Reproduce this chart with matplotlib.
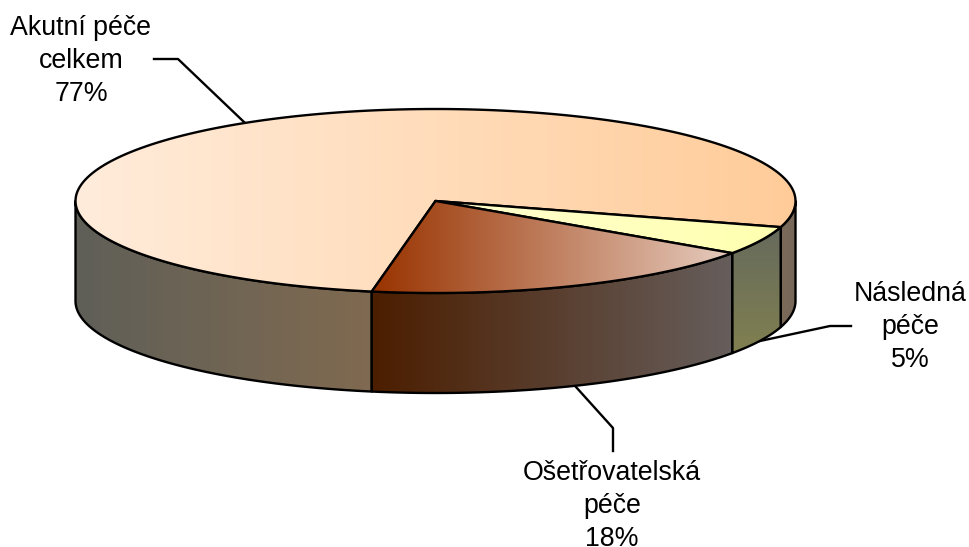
import numpy as np
import matplotlib
matplotlib.use('Agg')
import matplotlib.pyplot as plt
from matplotlib.patches import Polygon

plt.rcParams['font.family'] = ['Liberation Sans', 'DejaVu Sans']

# data
labels = ['Akutní péče\ncelkem', 'Následná\npéče', 'Ošetřovatelská\npéče']
shares = [76.75, 5, 18.25]

# pie geometry in pixels
cx, cy = 435.5, 201
rx, ry = 360, 92
depth = 100
start = -16.5
lw = 1.7

# angle ranges going counter clockwise for cream, clockwise for the others
a_cream = (start, start + shares[0] * 3.6)
a_yellow = (start - shares[1] * 3.6, start)
a_brown = (start - (shares[1] + shares[2]) * 3.6, start - shares[1] * 3.6)


def rim(a0, a1, dy=0):
    t = np.radians(np.linspace(a0, a1, 200))
    return np.column_stack([cx + rx * np.cos(t), cy - ry * np.sin(t) + dy])


def gradient(ax, pts, c0, c1, vertical=False):
    # fill polygon with a linear gradient, clipped, then outline it
    c0 = np.array(matplotlib.colors.to_rgb(c0))
    c1 = np.array(matplotlib.colors.to_rgb(c1))
    f = np.linspace(0, 1, 256)[:, None]
    ramp = c0 + (c1 - c0) * f
    img = ramp[:, None, :] if vertical else ramp[None, :, :]
    x0, x1 = pts[:, 0].min(), pts[:, 0].max()
    y0, y1 = pts[:, 1].min(), pts[:, 1].max()
    im = ax.imshow(img, extent=(x0, x1, y1, y0), aspect='auto', zorder=3, interpolation='bilinear')
    patch = Polygon(pts, closed=True, fc='none', ec='black', lw=lw, joinstyle='round', zorder=3)
    ax.add_patch(patch)
    im.set_clip_path(patch)


def side(a0, a1):
    return np.vstack([rim(a0, a1), rim(a1, a0, depth)])


def top(a0, a1):
    return np.vstack([[[cx, cy]], rim(a0, a1)])


fig = plt.figure(figsize=(9.69, 5.47), dpi=100)
ax = fig.add_axes([0, 0, 1, 1])

# leader lines
ax.plot([244, 178, 154], [122, 59, 59], color='black', lw=lw, zorder=1)
ax.plot([760, 830, 851], [341, 326, 326], color='black', lw=lw, zorder=1)
ax.plot([576, 613, 613], [387, 428, 451], color='black', lw=lw, zorder=1)

# sides
gradient(ax, side(180, a_cream[1]), '#5f5f58', '#806a50')
gradient(ax, side(a_cream[0], 0), '#7c6a58', '#76685a')
gradient(ax, side(*a_yellow), '#666a5c', '#808050', vertical=True)
gradient(ax, side(*a_brown), '#4c1e00', '#665e5c')

# top faces
gradient(ax, top(*a_cream), '#ffecdb', '#ffcc99')
gradient(ax, top(*a_yellow), '#ffffd0', '#ffffb0')
gradient(ax, top(*a_brown), '#993300', '#e6ccbf')

# labels
opts = dict(ha='center', va='center', fontsize=19.3, linespacing=1.37)
ax.text(81, 61, f'{labels[0]}\n{shares[0]:.0f}%', **opts)
ax.text(910, 327, f'{labels[1]}\n{shares[1]:.0f}%', **opts)
ax.text(612, 506, f'{labels[2]}\n{shares[2]:.0f}%', **opts)

ax.set_xlim(0, 969)
ax.set_ylim(547, 0)
ax.axis('off')

fig.savefig('out.png', dpi=100)
